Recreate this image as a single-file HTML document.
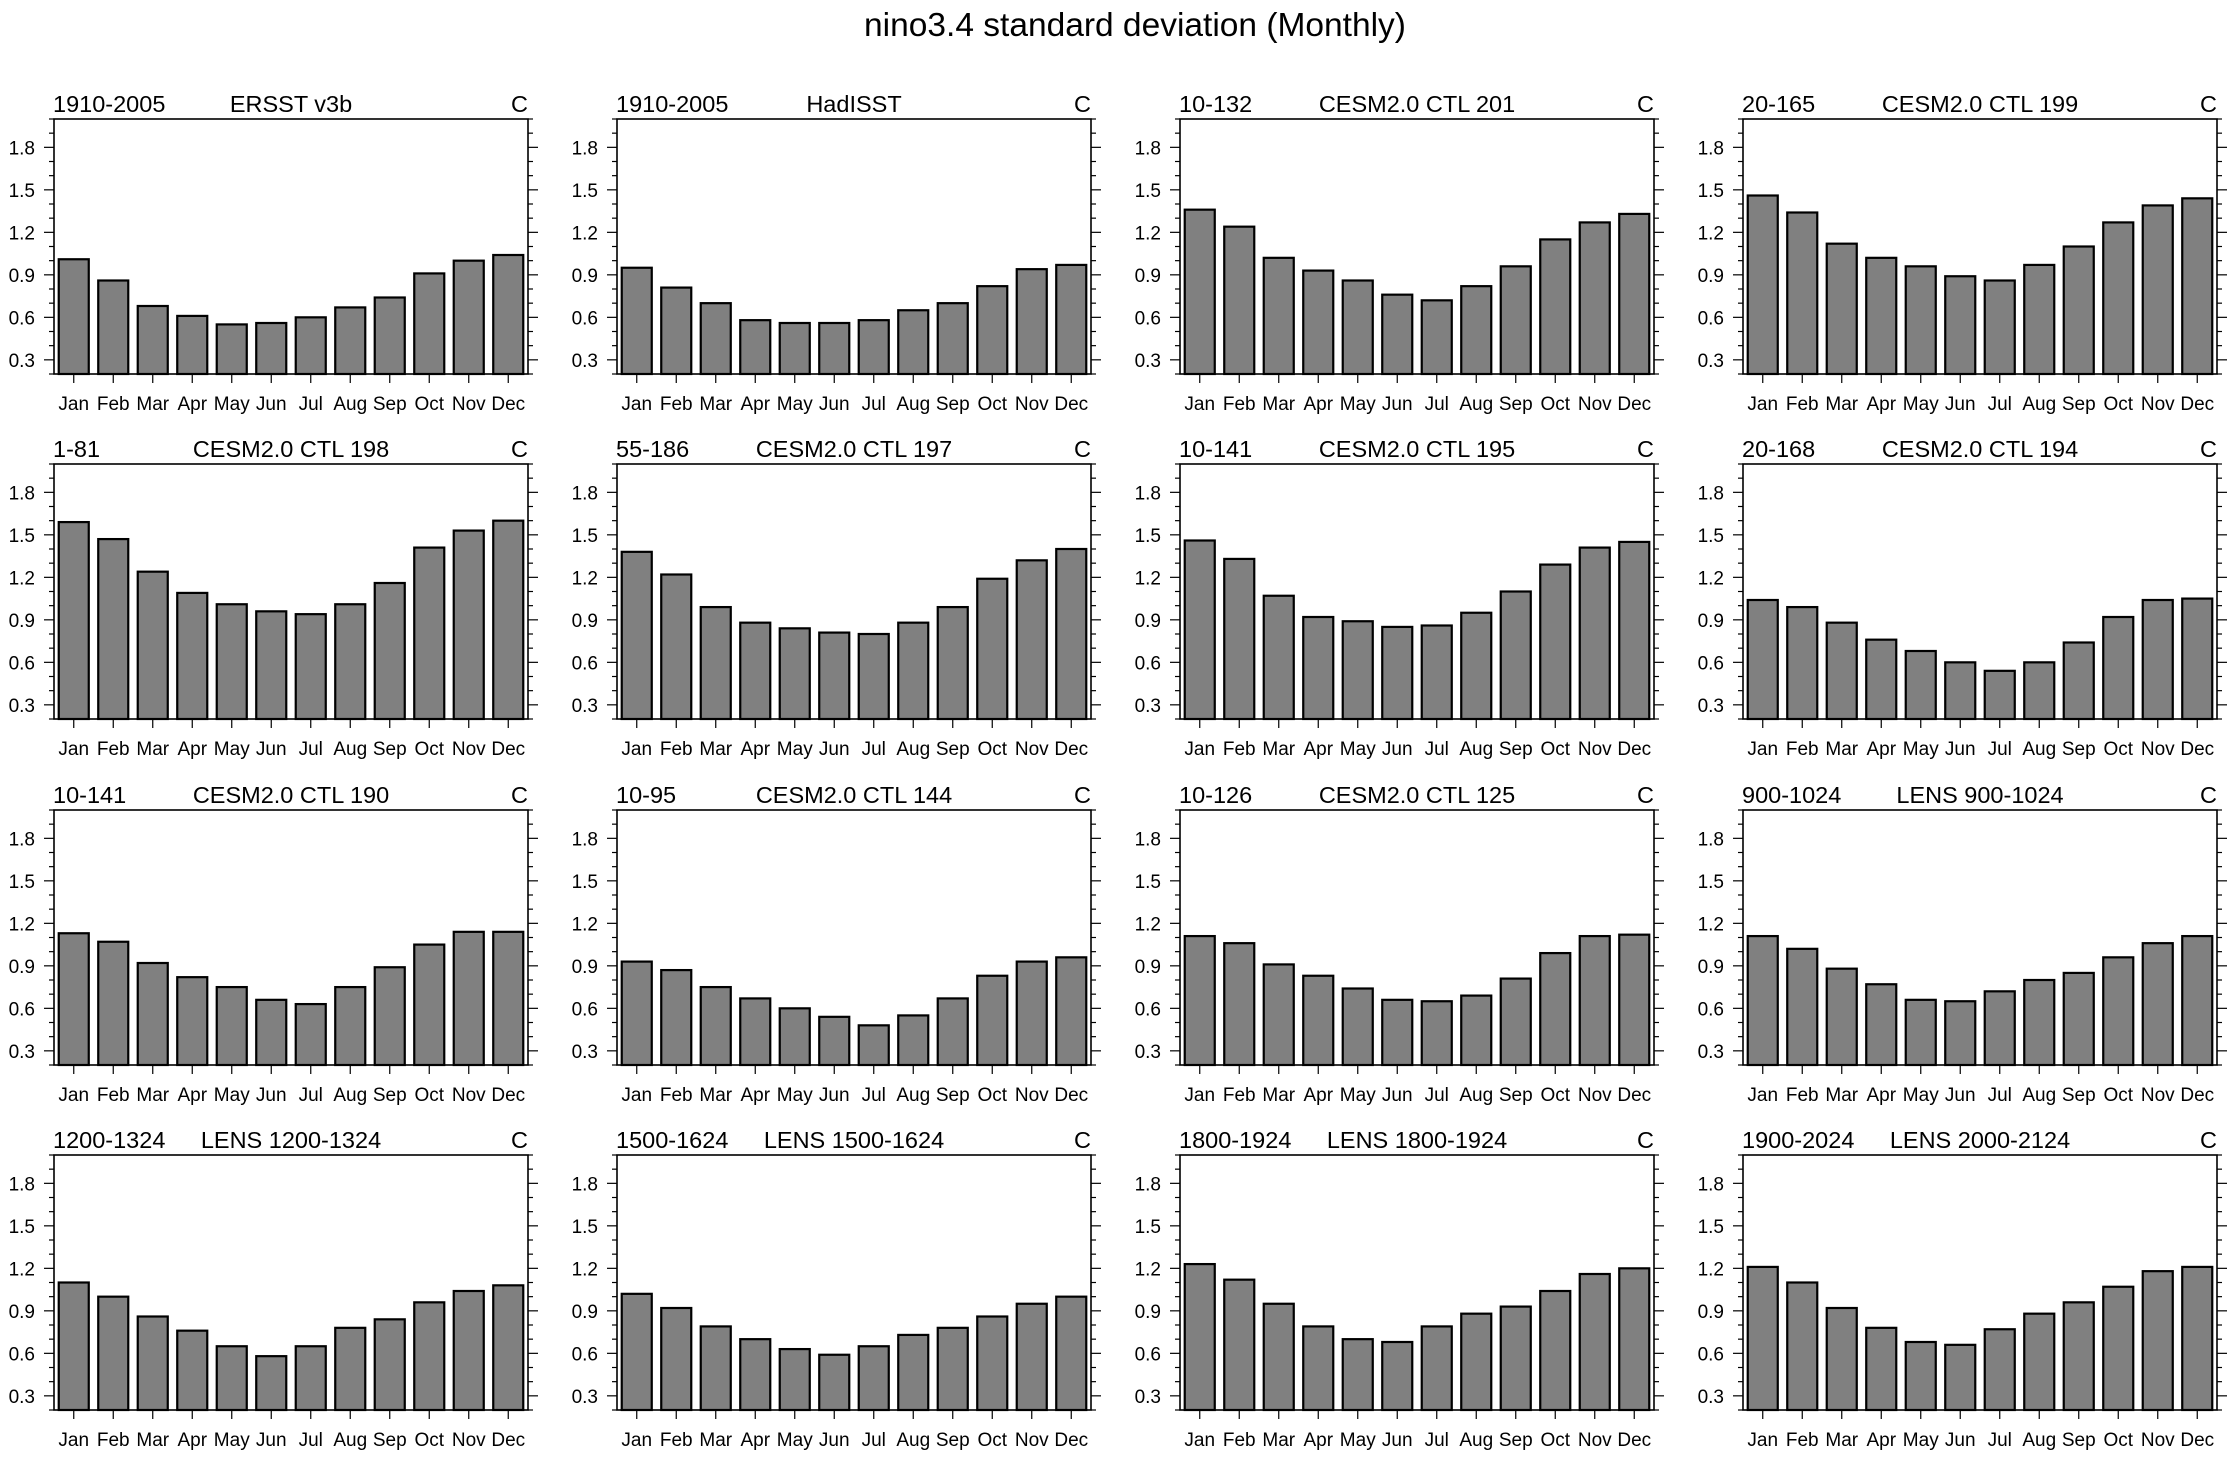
<!DOCTYPE html>
<html><head><meta charset="utf-8">
<style>
html,body{margin:0;padding:0;background:#fff;}
svg{display:block;font-family:"Liberation Sans",sans-serif;}
</style></head>
<body>
<svg id="fig" width="2233" height="1459" viewBox="0 0 2233 1459" xmlns="http://www.w3.org/2000/svg">
<text x="1135" y="36" font-size="33.5" text-anchor="middle">nino3.4 standard deviation (Monthly)</text>
</svg>
<script>
const months = ["Jan","Feb","Mar","Apr","May","Jun","Jul","Aug","Sep","Oct","Nov","Dec"];
const yTicks = [0.3,0.6,0.9,1.2,1.5,1.8];
const yTickLabels = ["0.3","0.6","0.9","1.2","1.5","1.8"];
const periods = ["1910-2005","1910-2005","10-132","20-165","1-81","55-186","10-141","20-168","10-141","10-95","10-126","900-1024","1200-1324","1500-1624","1800-1924","1900-2024"];
const names = ["ERSST v3b","HadISST","CESM2.0 CTL 201","CESM2.0 CTL 199","CESM2.0 CTL 198","CESM2.0 CTL 197","CESM2.0 CTL 195","CESM2.0 CTL 194","CESM2.0 CTL 190","CESM2.0 CTL 144","CESM2.0 CTL 125","LENS 900-1024","LENS 1200-1324","LENS 1500-1624","LENS 1800-1924","LENS 2000-2124"];
const s0 = [1.01,0.86,0.68,0.61,0.55,0.56,0.60,0.67,0.74,0.91,1.00,1.04];
const s1 = [0.95,0.81,0.70,0.58,0.56,0.56,0.58,0.65,0.70,0.82,0.94,0.97];
const s2 = [1.36,1.24,1.02,0.93,0.86,0.76,0.72,0.82,0.96,1.15,1.27,1.33];
const s3 = [1.46,1.34,1.12,1.02,0.96,0.89,0.86,0.97,1.10,1.27,1.39,1.44];
const s4 = [1.59,1.47,1.24,1.09,1.01,0.96,0.94,1.01,1.16,1.41,1.53,1.60];
const s5 = [1.38,1.22,0.99,0.88,0.84,0.81,0.80,0.88,0.99,1.19,1.32,1.40];
const s6 = [1.46,1.33,1.07,0.92,0.89,0.85,0.86,0.95,1.10,1.29,1.41,1.45];
const s7 = [1.04,0.99,0.88,0.76,0.68,0.60,0.54,0.60,0.74,0.92,1.04,1.05];
const s8 = [1.13,1.07,0.92,0.82,0.75,0.66,0.63,0.75,0.89,1.05,1.14,1.14];
const s9 = [0.93,0.87,0.75,0.67,0.60,0.54,0.48,0.55,0.67,0.83,0.93,0.96];
const s10 = [1.11,1.06,0.91,0.83,0.74,0.66,0.65,0.69,0.81,0.99,1.11,1.12];
const s11 = [1.11,1.02,0.88,0.77,0.66,0.65,0.72,0.80,0.85,0.96,1.06,1.11];
const s12 = [1.10,1.00,0.86,0.76,0.65,0.58,0.65,0.78,0.84,0.96,1.04,1.08];
const s13 = [1.02,0.92,0.79,0.70,0.63,0.59,0.65,0.73,0.78,0.86,0.95,1.00];
const s14 = [1.23,1.12,0.95,0.79,0.70,0.68,0.79,0.88,0.93,1.04,1.16,1.20];
const s15 = [1.21,1.10,0.92,0.78,0.68,0.66,0.77,0.88,0.96,1.07,1.18,1.21];
const series = [s0,s1,s2,s3,s4,s5,s6,s7,s8,s9,s10,s11,s12,s13,s14,s15];

const NS = "http://www.w3.org/2000/svg";
const svg = document.getElementById('fig');
const W = 474, H = 255, YMIN = 0.2, YMAX = 2.0;
const colX = [54,617,1180,1743], rowY = [119,464,810,1155];
function mk(tag, attrs, parent){const e=document.createElementNS(NS,tag);for(const k in attrs)e.setAttribute(k,attrs[k]);parent.appendChild(e);return e;}

series.forEach((vals, i) => {
  const x0 = colX[i%4], y0 = rowY[Math.floor(i/4)];
  const sx = v => x0 + (v - 0.5) / 12 * W;
  const sy = v => y0 + H - (v - YMIN) / (YMAX - YMIN) * H;
  const g = mk('g', {}, svg);
  
  
  vals.forEach((v, j) => {
    const cx = sx(j+1), bw = W/12*0.76;
    const r = mk('rect', {x: cx-bw/2, y: sy(v), width: bw, height: sy(YMIN)-sy(v), fill:'#808080', stroke:'#000', 'stroke-width':2.2}, g);
    
    
  });
  const f = mk('rect', {x:x0, y:y0, width:W, height:H, fill:'none', stroke:'#000', 'stroke-width':1.6}, g);
  
  
  for (let k = 2; k <= 20; k++) {
    const v = k/10, yy = sy(v);
    const major = (k % 3 === 0);
    const len = major ? 10 : 5;
    mk('line', {x1:x0, x2:x0-len, y1:yy, y2:yy, stroke:'#000', 'stroke-width':1.2}, g);
    mk('line', {x1:x0+W, x2:x0+W+len, y1:yy, y2:yy, stroke:'#000', 'stroke-width':1.2}, g);
  }
  yTicks.forEach((v, k) => {
    const t = mk('text', {x:x0-19, y:sy(v)+7, 'font-size':19, 'text-anchor':'end'}, g);
    t.textContent = yTickLabels[k];
    
    
  });
  months.forEach((m, j) => {
    const cx = sx(j+1);
    mk('line', {x1:cx, x2:cx, y1:y0+H, y2:y0+H+9, stroke:'#000', 'stroke-width':1.2}, g);
    const t = mk('text', {x:cx, y:y0+H+36, 'font-size':19, 'text-anchor':'middle'}, g);
    t.textContent = m;
    
    
  });
  const tl = mk('text', {x:x0-1, y:y0-7, 'font-size':23.5}, g);
  tl.textContent = periods[i];
  
  
  const tc = mk('text', {x:x0+W/2, y:y0-7, 'font-size':23.5, 'text-anchor':'middle'}, g);
  tc.textContent = names[i];
  
  
  const tr = mk('text', {x:x0+W, y:y0-7, 'font-size':23.5, 'text-anchor':'end'}, g);
  tr.textContent = 'C';
  
  
});
</script>
</body></html>
